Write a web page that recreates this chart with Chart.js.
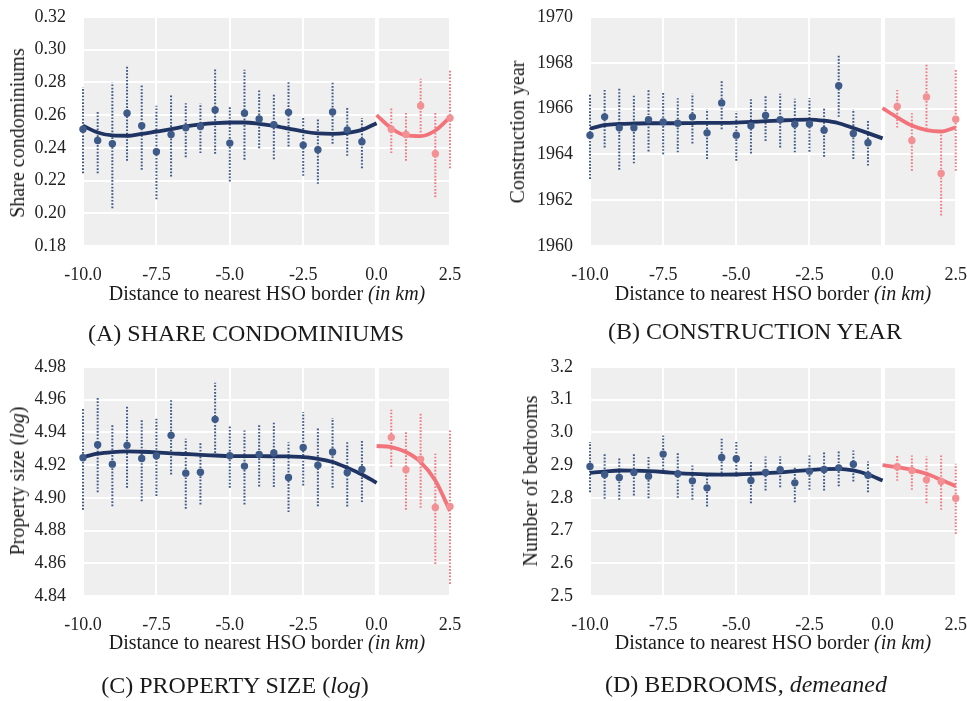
<!DOCTYPE html>
<html>
<head>
<meta charset="utf-8">
<script src="https://cdn.jsdelivr.net/npm/chart.js@4.4.1/dist/chart.umd.min.js"></script>
<style>
  body { margin: 0; background: #fff; }
  #page { position: relative; width: 967px; height: 701px; overflow: hidden; font-family: "Liberation Serif", serif; color: #1a1a1a; }
  canvas { position: absolute; }
  .lbl { position: absolute; white-space: nowrap; line-height: 1; transform: translate(-50%, -50%); }
  .ytitle { font-size: 20px; transform: translate(-50%, -50%) rotate(-90deg); }
  .xtitle { font-size: 20px; }
  .caption { font-size: 24px; }
</style>
</head>
<body>
<div id="page"></div>
<script>
// bins (km to nearest HSO border)
const xBins = [-10, -9.5, -9, -8.5, -8, -7.5, -7, -6.5, -6, -5.5, -5, -4.5, -4, -3.5, -3, -2.5, -2, -1.5, -1, -0.5, 0.5, 1, 1.5, 2, 2.5];
const fitLeftX = [-10, -9.5, -9, -8.5, -8, -7.5, -7, -6.5, -6, -5.5, -5, -4.5, -4, -3.5, -3, -2.5, -2, -1.5, -1, -0.5, 0];
const fitRightX = [0, 0.5, 1, 1.5, 2, 2.5];

// (A) share condominiums
const condoMean = [0.2514, 0.2445, 0.2425, 0.2612, 0.2535, 0.2376, 0.2482, 0.2523, 0.2531, 0.2631, 0.2429, 0.2612, 0.2576, 0.2541, 0.2617, 0.2417, 0.2388, 0.2619, 0.2510, 0.2437, 0.2514, 0.2482, 0.2657, 0.2364, 0.2582];
const condoLow = [0.2245, 0.2245, 0.2031, 0.2321, 0.2266, 0.2086, 0.2225, 0.2343, 0.2368, 0.2364, 0.2194, 0.2327, 0.2398, 0.2331, 0.2408, 0.2229, 0.2180, 0.2425, 0.2351, 0.2276, 0.2368, 0.2321, 0.2494, 0.2098, 0.2276];
const condoHigh = [0.2771, 0.2623, 0.2800, 0.2898, 0.2790, 0.2657, 0.2729, 0.2673, 0.2673, 0.2888, 0.2649, 0.2878, 0.2755, 0.2731, 0.2810, 0.2582, 0.2582, 0.2806, 0.2653, 0.2582, 0.2649, 0.2623, 0.2823, 0.2623, 0.2878];
const condoFitLeft = [0.2535, 0.2494, 0.2476, 0.2474, 0.2486, 0.2500, 0.2514, 0.2531, 0.2543, 0.2551, 0.2555, 0.2555, 0.2547, 0.2535, 0.2518, 0.2500, 0.2488, 0.2485, 0.2492, 0.2510, 0.2551];
const condoFitRight = [0.2600, 0.2520, 0.2476, 0.2472, 0.2506, 0.2588];

// (B) construction year
const yearMean = [1964.84, 1965.64, 1965.16, 1965.16, 1965.51, 1965.42, 1965.36, 1965.64, 1964.94, 1966.25, 1964.84, 1965.25, 1965.70, 1965.52, 1965.32, 1965.33, 1965.06, 1967.00, 1964.91, 1964.51, 1966.09, 1964.61, 1966.51, 1963.17, 1965.54];
const yearLow = [1962.93, 1964.30, 1963.33, 1963.61, 1964.13, 1964.01, 1964.09, 1964.48, 1963.80, 1965.10, 1963.72, 1964.04, 1964.59, 1964.30, 1964.09, 1964.12, 1963.90, 1965.64, 1963.80, 1963.51, 1965.17, 1963.29, 1965.10, 1961.33, 1963.29];
const yearHigh = [1966.65, 1966.81, 1966.91, 1966.62, 1966.84, 1966.70, 1966.45, 1966.65, 1965.97, 1967.23, 1965.90, 1966.41, 1966.59, 1966.65, 1966.43, 1966.46, 1966.04, 1968.32, 1965.97, 1965.49, 1966.81, 1965.80, 1967.93, 1964.88, 1967.74];
const yearFitLeft = [1965.13, 1965.28, 1965.33, 1965.35, 1965.36, 1965.36, 1965.36, 1965.37, 1965.38, 1965.38, 1965.39, 1965.42, 1965.45, 1965.48, 1965.51, 1965.52, 1965.47, 1965.36, 1965.15, 1964.93, 1964.70];
const yearFitRight = [1966.02, 1965.62, 1965.26, 1965.06, 1965.00, 1965.18];

// (C) property size (log)
const sizeMean = [4.9245, 4.9325, 4.9206, 4.9321, 4.9241, 4.9257, 4.9382, 4.9151, 4.9157, 4.9480, 4.9257, 4.9194, 4.9266, 4.9274, 4.9125, 4.9308, 4.9200, 4.9280, 4.9155, 4.9174, 4.9370, 4.9172, 4.9237, 4.8941, 4.8947];
const sizeLow = [4.8927, 4.9035, 4.8949, 4.9062, 4.8980, 4.9011, 4.9143, 4.8933, 4.8960, 4.9274, 4.9062, 4.8960, 4.9070, 4.9066, 4.8913, 4.9076, 4.8949, 4.9062, 4.8947, 4.8974, 4.9188, 4.8927, 4.8939, 4.8596, 4.8474];
const sizeHigh = [4.9551, 4.9610, 4.9449, 4.9561, 4.9484, 4.9484, 4.9600, 4.9361, 4.9341, 4.9704, 4.9437, 4.9412, 4.9449, 4.9467, 4.9341, 4.9525, 4.9429, 4.9488, 4.9351, 4.9355, 4.9539, 4.9408, 4.9514, 4.9270, 4.9416];
const sizeFitLeft = [4.9249, 4.9270, 4.9280, 4.9284, 4.9282, 4.9278, 4.9272, 4.9268, 4.9263, 4.9259, 4.9255, 4.9255, 4.9255, 4.9254, 4.9253, 4.9249, 4.9239, 4.9219, 4.9184, 4.9143, 4.9092];
const sizeFitRight = [4.9317, 4.9310, 4.9280, 4.9219, 4.9106, 4.8920];

// (D) bedrooms, demeaned
const bedMean = [2.8959, 2.8714, 2.8622, 2.8776, 2.8663, 2.9337, 2.8735, 2.8520, 2.8306, 2.9235, 2.9194, 2.8531, 2.8776, 2.8857, 2.8459, 2.8816, 2.8867, 2.8918, 2.9031, 2.8694, 2.8949, 2.8837, 2.8551, 2.8500, 2.7990];
const bedLow = [2.8173, 2.7969, 2.7939, 2.8071, 2.7990, 2.8755, 2.8000, 2.7939, 2.7735, 2.8653, 2.8653, 2.7837, 2.8224, 2.8327, 2.7867, 2.8245, 2.8224, 2.8357, 2.8500, 2.8173, 2.8520, 2.8245, 2.7837, 2.7633, 2.6898];
const bedHigh = [2.9704, 2.9367, 2.9224, 2.9347, 2.9286, 2.9908, 2.9398, 2.8990, 2.8755, 2.9806, 2.9704, 2.9143, 2.9265, 2.9265, 2.8918, 2.9296, 2.9398, 2.9418, 2.9449, 2.9112, 2.9296, 2.9296, 2.9265, 2.9296, 2.9041];
const bedFitLeft = [2.8765, 2.8800, 2.8837, 2.8830, 2.8816, 2.8790, 2.8755, 2.8730, 2.8714, 2.8710, 2.8714, 2.8730, 2.8755, 2.8780, 2.8816, 2.8850, 2.8878, 2.8888, 2.8837, 2.8714, 2.8531];
const bedFitRight = [2.9000, 2.8939, 2.8857, 2.8735, 2.8551, 2.8357];

const FONT = '"Liberation Serif", serif';
const BLUE_PT = '#3d5a89', BLUE_BAR = '#3e5b8c', BLUE_LINE = '#1f3463';
const RED_PT = '#f29094', RED_BAR = '#f27b82', RED_LINE = '#f2737a';

// grey panel background
const bgPlugin = {
    id: 'panelBg',
    beforeDraw(chart) {
        const a = chart.chartArea;
        chart.ctx.save();
        chart.ctx.fillStyle = '#efefef';
        chart.ctx.fillRect(a.left, a.top, a.right - a.left, a.bottom - a.top);
        chart.ctx.restore();
    }
};

// dotted confidence bars
const errorBarPlugin = {
    id: 'errorBars',
    beforeDatasetsDraw(chart, args, opts) {
        const { ctx, scales: { x, y } } = chart;
        ctx.save();
        ctx.lineWidth = 2;
        ctx.setLineDash([1.7, 1.6]);
        opts.bars.forEach(b => {
            const px = x.getPixelForValue(b.x);
            ctx.strokeStyle = b.color;
            ctx.beginPath();
            ctx.moveTo(px, y.getPixelForValue(b.lo));
            ctx.lineTo(px, y.getPixelForValue(b.hi));
            ctx.stroke();
        });
        ctx.restore();
    }
};

const page = document.getElementById('page');

function addLabel(html, cls, left, top) {
    const d = document.createElement('div');
    d.className = 'lbl ' + cls;
    d.innerHTML = html;
    d.style.left = left + 'px';
    d.style.top = top + 'px';
    page.appendChild(d);
}

function makePanel(p) {
    const cv = document.createElement('canvas');
    cv.width = p.w;
    cv.height = 300;
    cv.style.left = p.left + 'px';
    cv.style.top = p.top + 'px';
    page.appendChild(cv);

    const leftPts = [], rightPts = [], bars = [];
    xBins.forEach((x, i) => {
        (x < 0 ? leftPts : rightPts).push({ x: x, y: p.mean[i] });
        bars.push({ x: x, lo: p.low[i], hi: p.high[i], color: x < 0 ? BLUE_BAR : RED_BAR });
    });

    const fitLine = (xs, ys, color) => ({
        type: 'line',
        data: xs.map((x, i) => ({ x: x, y: ys[i] })),
        borderColor: color,
        borderWidth: 3.8,
        pointRadius: 0,
        fill: false,
        cubicInterpolationMode: 'monotone',
        order: 2
    });

    new Chart(cv, {
        type: 'scatter',
        data: {
            datasets: [
                { data: leftPts, backgroundColor: BLUE_PT, borderWidth: 0, pointRadius: 3.7, clip: false, order: 1 },
                { data: rightPts, backgroundColor: RED_PT, borderWidth: 0, pointRadius: 3.7, clip: false, order: 1 },
                fitLine(fitLeftX, p.fitL, BLUE_LINE),
                fitLine(fitRightX, p.fitR, RED_LINE)
            ]
        },
        options: {
            responsive: false,
            animation: false,
            events: [],
            layout: { padding: { top: 17, right: p.padRight, bottom: 0, left: 0 } },
            plugins: {
                legend: { display: false },
                tooltip: { enabled: false },
                errorBars: { bars: bars }
            },
            scales: {
                x: {
                    type: 'linear', min: -10, max: 2.5,
                    border: { display: false },
                    // invisible tick marks push the labels down without inflating the layout padding
                    grid: { color: '#ffffff', tickColor: 'rgba(0,0,0,0)', tickLength: 18,
                        lineWidth: c => (c.tick && c.tick.value === 0 ? 4 : 2) },
                    ticks: { stepSize: 2.5, padding: 0, color: '#222', maxRotation: 0, autoSkip: false,
                        font: { family: FONT, size: 18 }, callback: v => Number(v).toFixed(1) },
                    afterFit: s => { s.height = 54; }
                },
                y: {
                    type: 'linear', min: p.yMin, max: p.yMax,
                    border: { display: false },
                    grid: { color: '#ffffff', tickColor: 'rgba(0,0,0,0)', tickLength: 17, lineWidth: 2 },
                    ticks: { stepSize: p.step, padding: 0, color: '#222', autoSkip: false,
                        font: { family: FONT, size: 18 }, callback: v => Number(v).toFixed(p.dec) },
                    afterFit: s => { s.width = p.axisW; }
                }
            }
        },
        plugins: [bgPlugin, errorBarPlugin]
    });

    addLabel(p.yTitle, 'ytitle', p.yTitleX, p.yTitleY);
    addLabel('Distance to nearest HSO border <i>(in km)</i>', 'xtitle', p.xTitleX, p.xTitleY);
    addLabel(p.caption, 'caption', p.capX, p.capY);
}

const panels = [
    { left: 0, top: 0, w: 480, axisW: 83, padRight: 30, yMin: 0.18, yMax: 0.32, step: 0.02, dec: 2,
      mean: condoMean, low: condoLow, high: condoHigh, fitL: condoFitLeft, fitR: condoFitRight,
      yTitle: 'Share condominiums', yTitleX: 17, yTitleY: 133, xTitleX: 267, xTitleY: 293,
      caption: '(A) SHARE CONDOMINIUMS', capX: 246, capY: 333 },
    { left: 500, top: 0, w: 467, axisW: 90, padRight: 11, yMin: 1960, yMax: 1970, step: 2, dec: 0,
      mean: yearMean, low: yearLow, high: yearHigh, fitL: yearFitLeft, fitR: yearFitRight,
      yTitle: 'Construction year', yTitleX: 517, yTitleY: 132, xTitleX: 773, xTitleY: 293,
      caption: '(B) CONSTRUCTION YEAR', capX: 755, capY: 331 },
    { left: 0, top: 350, w: 480, axisW: 83, padRight: 30, yMin: 4.84, yMax: 4.98, step: 0.02, dec: 2,
      mean: sizeMean, low: sizeLow, high: sizeHigh, fitL: sizeFitLeft, fitR: sizeFitRight,
      yTitle: 'Property size (<i>log</i>)', yTitleX: 17, yTitleY: 481, xTitleX: 267, xTitleY: 642,
      caption: '(C) PROPERTY SIZE (<i>log</i>)', capX: 235, capY: 685 },
    { left: 500, top: 350, w: 467, axisW: 90, padRight: 11, yMin: 2.5, yMax: 3.2, step: 0.1, dec: 1,
      mean: bedMean, low: bedLow, high: bedHigh, fitL: bedFitLeft, fitR: bedFitRight,
      yTitle: 'Number of bedrooms', yTitleX: 530, yTitleY: 481, xTitleX: 773, xTitleY: 642,
      caption: '(D) BEDROOMS, <i>demeaned</i>', capX: 746, capY: 684 }
];

panels.forEach(makePanel);
</script>
</body>
</html>
